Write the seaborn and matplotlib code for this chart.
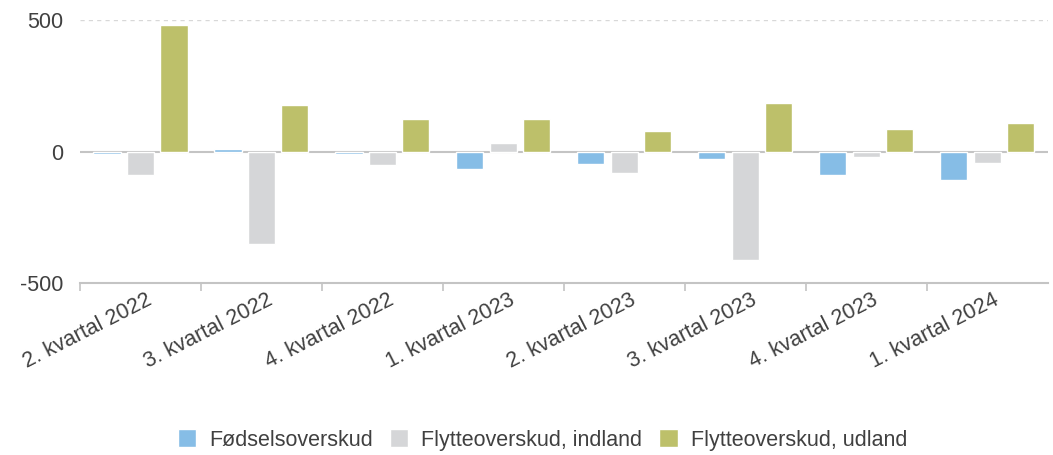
import numpy as np
import pandas as pd
import seaborn as sns
import matplotlib
matplotlib.use('Agg')
import matplotlib.pyplot as plt
import matplotlib.transforms as mtransforms

quarters = ['2. kvartal 2022', '3. kvartal 2022', '4. kvartal 2022', '1. kvartal 2023',
            '2. kvartal 2023', '3. kvartal 2023', '4. kvartal 2023', '1. kvartal 2024']
series = ['Fødselsoverskud', 'Flytteoverskud, indland', 'Flytteoverskud, udland']
foedsel = [-10, 11, -10, -64, -48, -26, -87, -109]
indland = [-87, -352, -49, 34, -79, -412, -19, -41]
udland = [481, 178, 126, 126, 79, 185, 87, 109]
colors = ['#86BDE6', '#D5D6D8', '#BDC06A']

df = pd.DataFrame({
    'kvartal': quarters * 3,
    'serie': [s for s in series for _ in quarters],
    'værdi': foedsel + indland + udland,
})

sns.set_style('white')
plt.rcParams['font.family'] = ['Liberation Sans', 'DejaVu Sans']

fig = plt.figure(figsize=(10.53, 4.55), dpi=100)
ax = fig.add_axes([0.076, 0.377, 0.919, 0.579])

sns.barplot(data=df, x='kvartal', y='værdi', hue='serie', hue_order=series,
            palette=colors, saturation=1, width=0.83, gap=0.19, ax=ax, legend=True)

ax.set_ylim(-500, 500)
ax.set_xlim(-0.5, 7.5)
ax.set_yticks([-500, 0, 500])
ax.set_yticklabels(['-500', '0', '500'], fontsize=15.5, color='#404040')
ax.axhline(0, color='#C4C4C4', linewidth=1.5, zorder=0)
ax.axhline(500, color='#D8D8D8', linewidth=1, linestyle=(0, (3, 3)), zorder=0)

for s in ['top', 'right', 'left']:
    ax.spines[s].set_visible(False)
ax.spines['bottom'].set_color('#C4C4C4')
ax.spines['bottom'].set_linewidth(1.5)

ax.set_xticks(np.arange(8))
ax.set_xticklabels(quarters, rotation=27, ha='right', va='center', rotation_mode='anchor',
                   fontsize=15.5, color='#404040')
ax.set_xticks(np.arange(-0.5, 7.5, 1), minor=True)
ax.tick_params(axis='x', which='major', bottom=True, length=0, pad=11)
ax.tick_params(axis='x', which='minor', bottom=True, length=6, color='#C4C4C4', width=1.2)
ax.tick_params(axis='y', length=0, pad=12)
ax.set_xlabel('')
ax.set_ylabel('')

shift = mtransforms.ScaledTranslation(0.10, 0, fig.dpi_scale_trans)
for lbl in ax.get_xticklabels():
    lbl.set_transform(lbl.get_transform() + shift)

handles, labels = ax.get_legend_handles_labels()
ax.get_legend().remove()
fig.legend(handles, labels, loc='center', bbox_to_anchor=(0.515, 0.033), ncol=3,
           frameon=False, fontsize=15.5, handlelength=0.85, handleheight=0.85,
           columnspacing=0.8, handletextpad=0.6, labelcolor='#404040')

plt.savefig('out.png', dpi=100)
plt.close()
